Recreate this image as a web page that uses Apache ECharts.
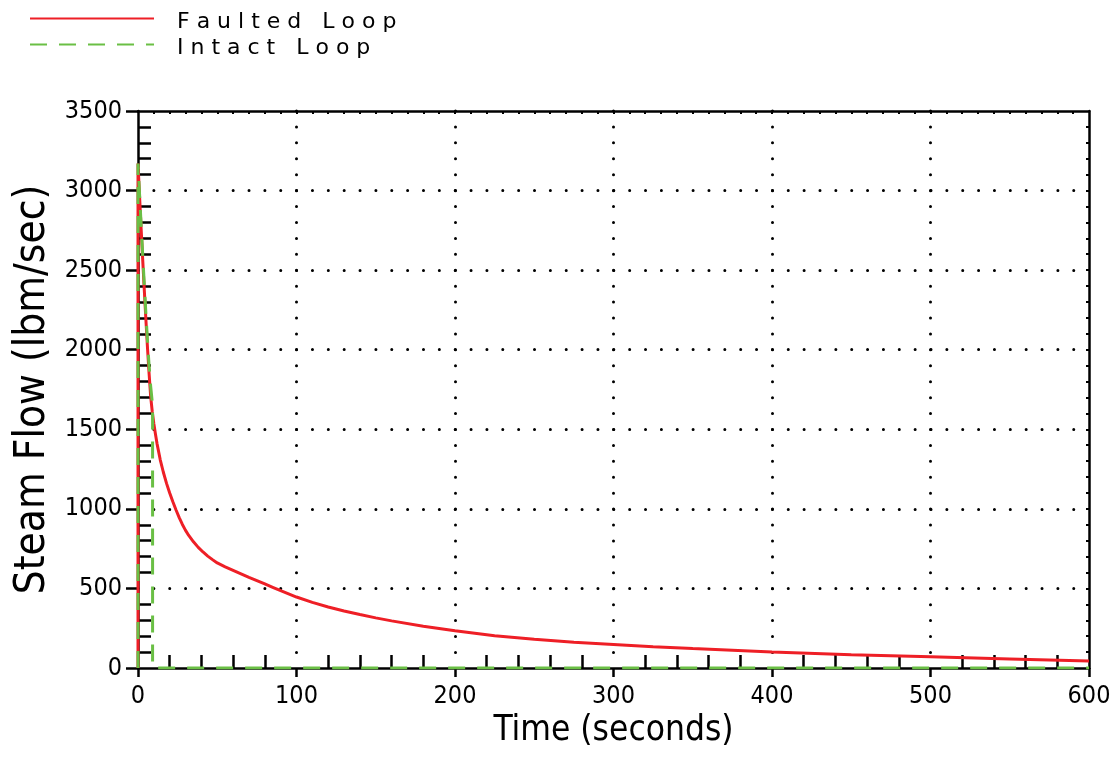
<!DOCTYPE html>
<html>
<head>
<meta charset="utf-8">
<title>Steam Flow</title>
<script src="https://cdn.jsdelivr.net/npm/echarts@6/dist/echarts.min.js"></script>
<style>
  html, body { margin: 0; padding: 0; background: #ffffff; }
  #chart { width: 1115px; height: 760px; }
</style>
</head>
<body>
<div id="chart"></div>
<script>
// ---- data ----
const seriesNames = ['Faulted Loop', 'Intact Loop'];

// Faulted loop steam flow (lbm/sec) vs time (seconds)
const faultedTime = [0, 0, 1, 2, 3, 4, 5, 6, 7, 8, 9, 10, 11, 12, 14, 16, 18, 20, 22, 24, 26, 28, 30, 32, 35, 38, 41, 44, 47, 50, 55, 60, 65, 70, 75, 80, 85, 90, 95, 100, 110, 120, 130, 140, 150, 160, 180, 200, 225, 250, 275, 300, 325, 350, 400, 450, 500, 550, 600];
const faultedFlow = [0, 3170, 2960, 2755, 2560, 2370, 2185, 2010, 1850, 1705, 1610, 1535, 1470, 1410, 1310, 1230, 1160, 1100, 1045, 993, 945, 902, 865, 833, 793, 758, 729, 703, 681, 660, 636, 614, 592, 570, 549, 528, 507, 486, 466, 446, 412, 383, 358, 336, 315, 296, 263, 234, 203, 180, 162, 148, 134, 122, 100, 84, 71, 57, 44];

// Intact loop steam flow (lbm/sec) vs time (seconds)
const intactTime = [0, 0, 1, 2, 3, 4, 5, 6, 7, 8, 9.2, 9.2, 600];
const intactFlow = [0, 3170, 2975, 2780, 2590, 2405, 2225, 2055, 1900, 1770, 1650, 0, 0];

// axis tick labels
const xTickValues = [0, 100, 200, 300, 400, 500, 600];
const yTickValues = [0, 500, 1000, 1500, 2000, 2500, 3000, 3500];

// ---- styles ----
const RED = '#ee1f26';
const GREEN = '#6abf45';
const FONT = "'Liberation Sans Narrow', 'DejaVu Sans Condensed', 'Liberation Sans', sans-serif";
const AXIS_W = 2.5;

const xMin = xTickValues[0], xMax = xTickValues[xTickValues.length - 1];
const yMin = yTickValues[0], yMax = yTickValues[yTickValues.length - 1];

// inward minor ticks: every 20 s on the time axis, every 100 lbm/sec on the flow axis
const xMinorTicks = [];
for (let v = xMin + 20; v < xMax; v += 20) if (v % 100 !== 0) xMinorTicks.push(v);
const yMinorTicks = [];
for (let v = yMin + 100; v < yMax; v += 100) if (v % 500 !== 0) yMinorTicks.push(v);
// small frame ticks on the top and right edges
const xFrameTicks = [];
for (let v = xMin + 10; v < xMax; v += 10) xFrameTicks.push(v);
const yFrameTicks = [];
for (let v = yMin + 100; v < yMax; v += 100) yFrameTicks.push(v);

const pairs = (xs, ys) => xs.map((x, i) => [x, ys[i]]);

const chart = echarts.init(document.getElementById('chart'), null, { renderer: 'canvas' });

const blankAxis = {
  axisLabel: { show: false },
  splitLine: { show: false }
};

chart.setOption({
  animation: false,
  backgroundColor: '#ffffff',
  legend: {
    orient: 'vertical',
    left: 29,
    top: 4,
    padding: 0,
    itemWidth: 124,
    itemHeight: 14,
    itemGap: -3,
    selectedMode: false,
    data: seriesNames,
    itemStyle: { opacity: 0 },
    formatter: name => '{t|' + name.split('').join(' ') + '}',
    textStyle: {
      color: '#000',
      rich: {
        t: { fontFamily: "'DejaVu Sans', sans-serif", fontSize: 22, lineHeight: 18, color: '#000', padding: [7, 0, 0, 18] }
      }
    }
  },
  grid: { left: 138, right: 26, top: 111, bottom: 92, outerBoundsMode: 'none' },
  xAxis: [
    {
      type: 'value', position: 'bottom', min: xMin, max: xMax, interval: 100,
      name: 'Time (seconds)', nameLocation: 'middle', nameGap: 38,
      nameTextStyle: { fontFamily: FONT, fontSize: 35, color: '#000' },
      axisLine: { show: true, onZero: false, lineStyle: { color: '#000', width: AXIS_W } },
      axisTick: { show: true, inside: false, length: 9, lineStyle: { color: '#000', width: AXIS_W } },
      axisLabel: { show: true, margin: 16, showMinLabel: true, showMaxLabel: true, hideOverlap: false,
        customValues: xTickValues, formatter: v => String(v),
        fontFamily: FONT, fontSize: 25, color: '#000' },
      splitLine: { show: true, showMinLine: false, showMaxLine: false,
        lineStyle: { color: '#000', width: 3, type: [0.01, 15.914], cap: 'round' } }
    },
    Object.assign({
      type: 'value', position: 'bottom', min: xMin, max: xMax,
      axisLine: { show: false, onZero: false },
      axisTick: { show: true, inside: true, length: 13, customValues: xMinorTicks, lineStyle: { color: '#000', width: AXIS_W } }
    }, blankAxis),
    Object.assign({
      type: 'value', position: 'top', min: xMin, max: xMax,
      axisLine: { show: true, onZero: false, lineStyle: { color: '#000', width: AXIS_W } },
      axisTick: { show: true, inside: true, length: 3, customValues: xFrameTicks, lineStyle: { color: '#000', width: 2 } }
    }, blankAxis)
  ],
  yAxis: [
    {
      type: 'value', position: 'left', min: yMin, max: yMax, interval: 500,
      name: 'Steam Flow (lbm/sec)', nameLocation: 'middle', nameGap: 69, nameRotate: 90,
      nameTextStyle: { fontFamily: FONT, fontSize: 42, color: '#000' },
      axisLine: { show: true, onZero: false, lineStyle: { color: '#000', width: AXIS_W } },
      axisTick: { show: true, inside: false, length: 12, lineStyle: { color: '#000', width: AXIS_W } },
      axisLabel: { show: true, margin: 16, showMinLabel: true, showMaxLabel: true, hideOverlap: false,
        customValues: yTickValues, formatter: v => String(v),
        fontFamily: FONT, fontSize: 25, color: '#000' },
      splitLine: { show: true, showMinLine: false, showMaxLine: false,
        lineStyle: { color: '#000', width: 3, type: [0.01, 15.85], cap: 'round' } }
    },
    Object.assign({
      type: 'value', position: 'left', min: yMin, max: yMax,
      axisLine: { show: false, onZero: false },
      axisTick: { show: true, inside: true, length: 13, customValues: yMinorTicks, lineStyle: { color: '#000', width: AXIS_W } }
    }, blankAxis),
    Object.assign({
      type: 'value', position: 'right', min: yMin, max: yMax,
      axisLine: { show: true, onZero: false, lineStyle: { color: '#000', width: AXIS_W } },
      axisTick: { show: true, inside: true, length: 3, customValues: yFrameTicks, lineStyle: { color: '#000', width: 2 } }
    }, blankAxis)
  ],
  series: [
    {
      name: seriesNames[0], type: 'line', xAxisIndex: 0, yAxisIndex: 0,
      data: pairs(faultedTime, faultedFlow),
      symbol: 'none', smooth: false, z: 3,
      lineStyle: { color: RED, width: 3 },
      itemStyle: { color: RED }
    },
    {
      name: seriesNames[1], type: 'line', xAxisIndex: 0, yAxisIndex: 0,
      data: pairs(intactTime, intactFlow),
      symbol: 'none', smooth: false, z: 4,
      lineStyle: { color: GREEN, width: 3, type: [17, 12] },
      itemStyle: { color: GREEN }
    }
  ]
});
</script>
</body>
</html>
